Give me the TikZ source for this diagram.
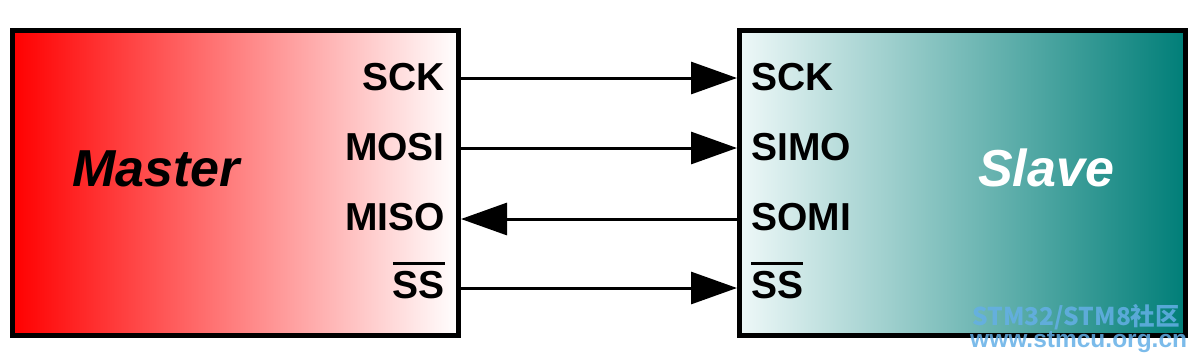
\documentclass[tikz,border=0pt]{standalone}
\usepackage{fontspec}
\setmainfont{Liberation Sans}
\newfontfamily\cjkfont{Noto Sans CJK SC}
\usetikzlibrary{arrows.meta}
\newcommand\ovbar[1]{\vbox{\hrule height 2.8pt\kern 5.5pt\hbox{#1}}}
\definecolor{teal1}{RGB}{0,126,120}
\definecolor{teal0}{RGB}{238,248,248}
\definecolor{wmblue}{RGB}{100,175,230}
\begin{document}
\begin{tikzpicture}[x=1pt,y=-1pt,
  box/.style={draw=black, line width=5pt, minimum width=446pt, minimum height=305pt, inner sep=0pt},
  pin/.style={font=\bfseries\fontsize{39}{42}\selectfont, inner sep=0pt},
  title/.style={font=\bfseries\itshape\fontsize{52}{56}\selectfont, inner sep=0pt},
  sig/.style={line width=3pt, -{Triangle[length=46pt,width=32pt]}},
  wm/.style={text=wmblue, opacity=0.85, inner sep=0pt}]
\useasboundingbox (0,0) rectangle (1203,360);
\node[box, left color=red, right color=white] (master) at (235.5,183) {};
\node[box, left color=teal0, right color=teal1] (slave) at (962.5,183) {};
% titles
\node[title, anchor=base] (mt) at (156,186) {Master};
\node[title, anchor=base, text=white] (st) at (1046,186) {Slave};
% master pins
\node[pin, anchor=base east] (msck) at (445,90) {SCK};
\node[pin, anchor=base east] (mmosi) at (445,160) {MOSI};
\node[pin, anchor=base east] (mmiso) at (445,230) {MISO};
\node[pin, anchor=base east] (mss) at (445,298) {\ovbar{SS}};
% slave pins
\node[pin, anchor=base west] (ssck) at (751,90) {SCK};
\node[pin, anchor=base west] (ssimo) at (751,160) {SIMO};
\node[pin, anchor=base west] (ssomi) at (751,230) {SOMI};
\node[pin, anchor=base west] (sss) at (751,298) {\ovbar{SS}};
% line levels
\coordinate (l1) at (0,78);
\coordinate (l2) at (0,148);
\coordinate (l3) at (0,219);
\coordinate (l4) at (0,288);
\draw[sig] (master.east |- l1) -- (slave.west |- l1);
\draw[sig] (master.east |- l2) -- (slave.west |- l2);
\draw[sig] (slave.west |- l3) -- (master.east |- l3);
\draw[sig] (master.east |- l4) -- (slave.west |- l4);
% watermark
\node[wm, anchor=base west, font=\cjkfont\bfseries\fontsize{24.5}{26}\selectfont] (wm1) at (972,325) {STM32/STM8社区};
\node[wm, anchor=base west, font=\bfseries\fontsize{24.5}{26}\selectfont] (wm2) at (970,347) {www.stmcu.org.cn};
\end{tikzpicture}
\end{document}
